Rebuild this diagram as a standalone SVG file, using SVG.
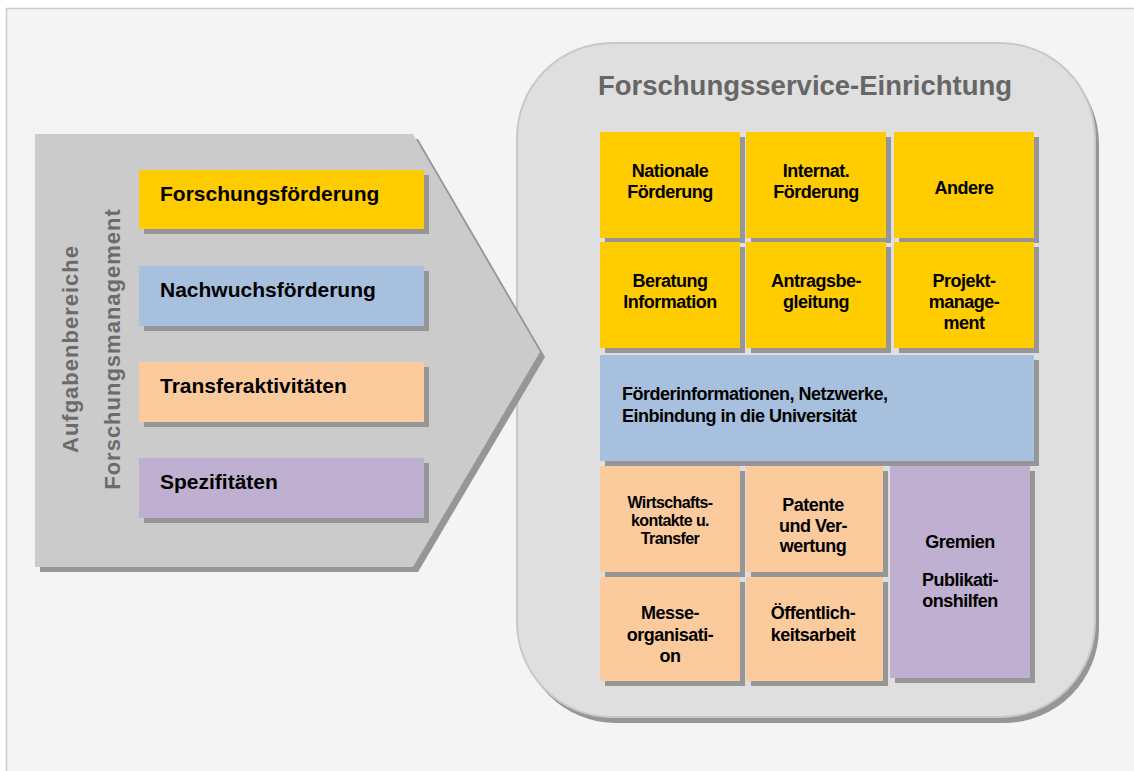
<svg xmlns="http://www.w3.org/2000/svg" width="1134" height="771" viewBox="0 0 1134 771">
<style>
text{font-family:"Liberation Sans",Arial,sans-serif;font-weight:bold;}
.sh{fill:#969696;}
.y{fill:#ffcc00;}
.b{fill:#a6c0de;}
.o{fill:#fbcb9e;}
.p{fill:#bfafd0;}
.lt{font-size:21px;fill:#000;}
.bt{font-size:18px;fill:#000;letter-spacing:-0.5px;text-anchor:middle;}
.bl{font-size:18px;fill:#000;letter-spacing:-0.5px;text-anchor:start;}
.st{font-size:16px;fill:#000;letter-spacing:-0.6px;text-anchor:middle;}
.vt{font-size:22px;fill:#6b6b6b;letter-spacing:1px;text-anchor:middle;}
</style>
<rect x="0" y="0" width="1134" height="771" fill="#ffffff"/>
<rect x="6.5" y="8.5" width="1140" height="780" fill="#f4f4f4" stroke="#cccccc" stroke-width="1.5"/>

<g id="forschungsservice">
  <rect x="521" y="49" width="578" height="674" rx="95" ry="95" class="sh"/>
  <rect x="517" y="43" width="578" height="674" rx="95" ry="95" fill="#dfdfdf" stroke="#c8c8c8" stroke-width="2"/>
  <text x="805" y="95" font-size="27.5" fill="#666666" text-anchor="middle">Forschungsservice-Einrichtung</text>
</g>

<g id="left-arrow">
  <polygon points="40,139 418,139 545,357 418,572 40,572" class="sh"/>
  <polygon points="35,134 413,134 540,352 413,567 35,567" fill="#cbcbcb"/>
  <text class="vt" transform="translate(78,349) rotate(-90)">Aufgabenbereiche</text>
  <text class="vt" transform="translate(120,349) rotate(-90)">Forschungsmanagement</text>
</g>

<g id="forschungsfoerderung">
  <rect x="144" y="175" width="285" height="59" class="sh"/>
  <rect x="139" y="170" width="285" height="59" class="y"/>
  <text x="160" y="201" class="lt">Forschungsförderung</text>
</g>
<g id="nachwuchsfoerderung">
  <rect x="144" y="271" width="285" height="60" class="sh"/>
  <rect x="139" y="266" width="285" height="60" class="b"/>
  <text x="160" y="297" class="lt">Nachwuchsförderung</text>
</g>
<g id="transferaktivitaeten">
  <rect x="144" y="367" width="285" height="60" class="sh"/>
  <rect x="139" y="362" width="285" height="60" class="o"/>
  <text x="160" y="393" class="lt">Transferaktivitäten</text>
</g>
<g id="spezifitaeten">
  <rect x="144" y="463" width="285" height="60" class="sh"/>
  <rect x="139" y="458" width="285" height="60" class="p"/>
  <text x="160" y="489" class="lt">Spezifitäten</text>
</g>

<g id="nationale">
  <rect x="605" y="137" width="140" height="106" class="sh"/>
  <rect x="600" y="132" width="140" height="106" class="y"/>
  <text x="670" y="177" class="bt">Nationale</text>
  <text x="670" y="198" class="bt">Förderung</text>
</g>
<g id="internat">
  <rect x="751" y="137" width="140" height="106" class="sh"/>
  <rect x="746" y="132" width="140" height="106" class="y"/>
  <text x="816" y="177" class="bt">Internat.</text>
  <text x="816" y="198" class="bt">Förderung</text>
</g>
<g id="andere">
  <rect x="899" y="137" width="140" height="106" class="sh"/>
  <rect x="894" y="132" width="140" height="106" class="y"/>
  <text x="964" y="194" class="bt">Andere</text>
</g>

<g id="beratung">
  <rect x="605" y="247" width="140" height="106" class="sh"/>
  <rect x="600" y="242" width="140" height="106" class="y"/>
  <text x="670" y="287" class="bt">Beratung</text>
  <text x="670" y="308" class="bt">Information</text>
</g>
<g id="antragsbegleitung">
  <rect x="751" y="247" width="140" height="106" class="sh"/>
  <rect x="746" y="242" width="140" height="106" class="y"/>
  <text x="816" y="287" class="bt">Antragsbe-</text>
  <text x="816" y="308" class="bt">gleitung</text>
</g>
<g id="projektmanagement">
  <rect x="899" y="247" width="140" height="106" class="sh"/>
  <rect x="894" y="242" width="140" height="106" class="y"/>
  <text x="964" y="287" class="bt">Projekt-</text>
  <text x="964" y="308" class="bt">manage-</text>
  <text x="964" y="329" class="bt">ment</text>
</g>

<g id="foerderinformationen">
  <rect x="605" y="360" width="434" height="106" class="sh"/>
  <rect x="600" y="355" width="434" height="106" class="b"/>
  <text x="622" y="400" class="bl">Förderinformationen, Netzwerke,</text>
  <text x="622" y="422" class="bl">Einbindung in die Universität</text>
</g>

<g id="wirtschaftskontakte">
  <rect x="605" y="471" width="140" height="106" class="sh"/>
  <rect x="600" y="466" width="140" height="106" class="o"/>
  <text x="670" y="508" class="st">Wirtschafts-</text>
  <text x="670" y="526" class="st">kontakte u.</text>
  <text x="670" y="544" class="st">Transfer</text>
</g>
<g id="patente">
  <rect x="751" y="471" width="137" height="106" class="sh"/>
  <rect x="746" y="466" width="137" height="106" class="o"/>
  <text x="813" y="511" class="bt">Patente</text>
  <text x="813" y="532" class="bt">und Ver-</text>
  <text x="813" y="552" class="bt">wertung</text>
</g>
<g id="messeorganisation">
  <rect x="605" y="582" width="140" height="104" class="sh"/>
  <rect x="600" y="577" width="140" height="104" class="o"/>
  <text x="670" y="619" class="bt">Messe-</text>
  <text x="670" y="641" class="bt">organisati-</text>
  <text x="670" y="662" class="bt">on</text>
</g>
<g id="oeffentlichkeitsarbeit">
  <rect x="751" y="582" width="137" height="104" class="sh"/>
  <rect x="746" y="577" width="137" height="104" class="o"/>
  <text x="813" y="619" class="bt">Öffentlich-</text>
  <text x="813" y="641" class="bt">keitsarbeit</text>
</g>
<g id="gremien">
  <rect x="895" y="471" width="140" height="212" class="sh"/>
  <rect x="890" y="466" width="140" height="212" class="p"/>
  <text x="960" y="548" class="bt">Gremien</text>
  <text x="960" y="586" class="bt">Publikati-</text>
  <text x="960" y="607" class="bt">onshilfen</text>
</g>

<g id="connectors"></g>
</svg>
